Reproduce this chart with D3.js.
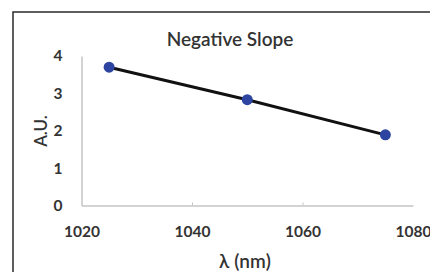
<!DOCTYPE html>
<html>
<head>
<meta charset="utf-8">
<script src="https://cdn.jsdelivr.net/npm/d3@7"></script>
<style>
  body { margin: 0; background: #fff; }
  svg { display: block; }
</style>
</head>
<body>
<svg id="chart"></svg>
<script>
// data
const wavelengths = [1025, 1050, 1075];
const intensities = [3.70, 2.83, 1.89];
const xTicks = [1020, 1040, 1060, 1080];
const yTicks = [0, 1, 2, 3, 4];

const W = 430, H = 272;
const svg = d3.select("#chart").attr("width", W).attr("height", H);

// outer frame (only left and top edges are inside the picture)
svg.append("rect")
    .attr("x", 13).attr("y", 12)
    .attr("width", 440).attr("height", 300)
    .attr("fill", "#fff")
    .attr("stroke", "#2a2a2a")
    .attr("stroke-width", 1.5);

const x = d3.scaleLinear().domain([1020, 1080]).range([81.5, 413]);
const y = d3.scaleLinear().domain([0, 4]).range([205.5, 56]);

const axisColor = "#c4c4c4";
const textColor = "#333";
const font = "Lato, 'Open Sans', sans-serif";

// x axis
const gx = svg.append("g").attr("transform", `translate(0,${y(0)})`)
    .call(d3.axisBottom(x).tickValues(xTicks).tickSize(0).tickPadding(20).tickFormat(d3.format("d")));
gx.select(".domain").attr("stroke", axisColor).attr("stroke-width", 1.5);
gx.selectAll("text")
    .attr("fill", textColor)
    .style("font-family", font)
    .style("font-weight", "bold")
    .style("font-size", "15.5px");
// faint tick marks on inner x positions
gx.selectAll(".tick").filter((d, i) => i > 0 && i < xTicks.length - 1)
  .append("line").attr("y2", -3).attr("stroke", axisColor);

// y axis
const gy = svg.append("g").attr("transform", `translate(${x(1020)},0)`)
    .call(d3.axisLeft(y).tickValues(yTicks).tickSize(0).tickPadding(19).tickFormat(d3.format("d")));
gy.select(".domain").attr("stroke", axisColor).attr("stroke-width", 1.5);
gy.selectAll("text")
    .attr("fill", textColor)
    .style("font-family", font)
    .style("font-weight", "bold")
    .style("font-size", "15.5px");

// title
svg.append("text")
    .attr("x", 230).attr("y", 46)
    .attr("text-anchor", "middle")
    .attr("fill", textColor)
    .style("font-family", font)
    .style("font-weight", 600)
    .style("font-size", "19px")
    .text("Negative Slope");

// axis titles
svg.append("text")
    .attr("x", 245).attr("y", 268)
    .attr("text-anchor", "middle")
    .attr("fill", textColor)
    .style("font-family", font)
    .style("font-weight", 600)
    .style("font-size", "19px")
    .text("λ (nm)");

svg.append("text")
    .attr("transform", "translate(47,131) rotate(-90)")
    .attr("text-anchor", "middle")
    .attr("fill", textColor)
    .style("font-family", font)
    .style("font-weight", 600)
    .style("font-size", "17px")
    .text("A.U.");

// series
const points = wavelengths.map((w, i) => ({ w, v: intensities[i] }));

svg.append("path")
    .datum(points)
    .attr("fill", "none")
    .attr("stroke", "#111")
    .attr("stroke-width", 3)
    .attr("d", d3.line().x(d => x(d.w)).y(d => y(d.v)));

svg.append("g").selectAll("circle")
    .data(points)
    .join("circle")
    .attr("cx", d => x(d.w))
    .attr("cy", d => y(d.v))
    .attr("r", 5.5)
    .attr("fill", "#2d45a0");
</script>
</body>
</html>
